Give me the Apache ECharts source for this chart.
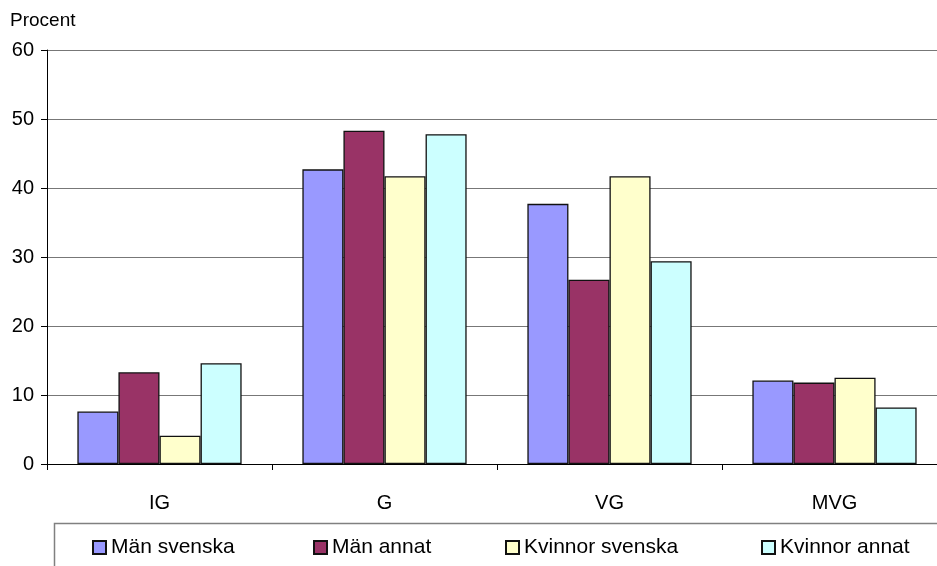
<!DOCTYPE html>
<html>
<head>
<meta charset="utf-8">
<script src="https://cdn.jsdelivr.net/npm/echarts@6/dist/echarts.min.js"></script>
<style>
  html, body { margin: 0; padding: 0; background: #fff; overflow: hidden; }
  /* plot runs a little past the right edge, as in the original */
  #chart { width: 947px; height: 566px; }
</style>
</head>
<body>
<div id="chart"></div>
<script>
  const categories = ["IG", "G", "VG", "MVG"];
  const manSvenska = [7.6, 42.7, 37.7, 12.1];
  const manAnnat = [13.3, 48.3, 26.7, 11.8];
  const kvinnorSvenska = [4.1, 41.7, 41.7, 12.5];
  const kvinnorAnnat = [14.6, 47.8, 29.4, 8.2];
  const yTicks = [0, 10, 20, 30, 40, 50, 60];

  const names = ["Män svenska", "Män annat", "Kvinnor svenska", "Kvinnor annat"];
  const values = [manSvenska, manAnnat, kvinnorSvenska, kvinnorAnnat];
  const colors = ["#9999ff", "#993366", "#ffffcc", "#ccffff"];
  const legendLeft = [92, 313, 505, 761];

  const font = "'Liberation Sans', Arial, sans-serif";
  const chart = echarts.init(document.getElementById("chart"));

  const option = {
    animation: false,
    textStyle: { fontFamily: font },
    grid: { left: 47, right: 0, top: 50, bottom: 102 },
    xAxis: {
      type: "category",
      data: categories,
      axisLine: { lineStyle: { color: "#000", width: 1 } },
      axisTick: { show: true, length: 6, lineStyle: { color: "#000" } },
      axisLabel: { color: "#000", fontSize: 20, margin: 29, fontFamily: font },
    },
    yAxis: {
      type: "value",
      min: yTicks[0],
      max: yTicks[yTicks.length - 1],
      interval: 10,
      name: "Procent",
      nameLocation: "end",
      nameGap: 20,
      nameTextStyle: { color: "#000", fontSize: 19, align: "left", padding: [0, 0, 0, -37], fontFamily: font },
      axisLine: { show: true, lineStyle: { color: "#000" } },
      axisTick: { show: true, length: 6, lineStyle: { color: "#000" } },
      axisLabel: { color: "#000", fontSize: 20, margin: 13, fontFamily: font },
      splitLine: { show: true, lineStyle: { color: "#777", width: 1 } },
    },
    legend: names.map((n, i) => ({
      data: [n],
      left: legendLeft[i],
      top: 537,
      icon: "rect",
      itemWidth: 13,
      itemHeight: 13,
      itemGap: 0,
      padding: 0,
      textStyle: { color: "#000", fontSize: 21, fontFamily: font },
    })),
    graphic: [
      {
        type: "rect",
        left: 52,
        top: 521,
        shape: { width: 920, height: 60 },
        style: { fill: "none", stroke: "#808080", lineWidth: 1.5 },
        silent: true,
      },
    ],
    series: names.map((n, i) => ({
      name: n,
      type: "bar",
      data: values[i],
      barGap: "0%",
      barCategoryGap: "27%",
      itemStyle: { color: colors[i], borderColor: "#111", borderWidth: 1.3 },
    })),
  };
  chart.setOption(option);
</script>
</body>
</html>
